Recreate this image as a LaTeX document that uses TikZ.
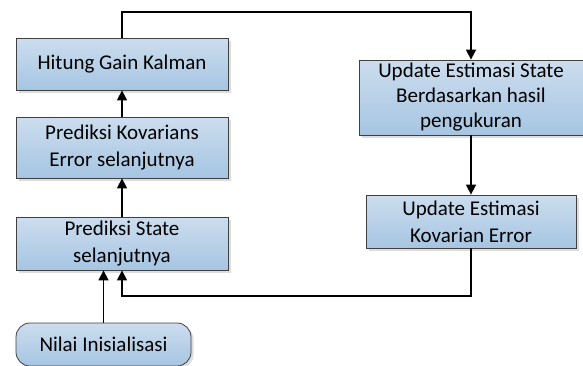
\documentclass[tikz,border=0pt]{standalone}
\usepackage{fontspec}
\setmainfont{Carlito}
\usetikzlibrary{arrows.meta,shadows}

\begin{document}
\begin{tikzpicture}[x=1pt,y=-1pt,
	kotak/.style={draw=black!75, line width=0.8pt, top color={rgb,255:red,204;green,221;blue,238}, bottom color={rgb,255:red,166;green,197;blue,226},
		drop shadow={shadow xshift=2.5pt, shadow yshift=-2.5pt, fill=black!22, opacity=0.6},
		align=center, inner sep=0pt, font=\fontsize{21}{27}\selectfont},
	panah/.style={line width=1.6pt, -{Triangle[length=10pt,width=10pt]}},
	garis/.style={line width=1.6pt}]
	
	\useasboundingbox (0,0) rectangle (583,365);
	
	\node[kotak, minimum width=212pt, minimum height=52pt] (gain) at (122,64) {Hitung Gain Kalman};
	\node[kotak, minimum width=212pt, minimum height=61pt] (prekov) at (122,147.5) {Prediksi Kovarians\\Error selanjutnya};
	\node[kotak, minimum width=212pt, minimum height=53pt] (prestate) at (122,243.5) {Prediksi State\\selanjutnya};
	\node[kotak, rounded corners=14pt, minimum width=175pt, minimum height=43pt] (nilai) at (103.5,344.5) {Nilai Inisialisasi};
	
	\node[kotak, minimum width=224pt, minimum height=75pt, font=\fontsize{21}{25}\selectfont] (update) at (471,97.5) {Update Estimasi State\\Berdasarkan hasil\\pengukuran};
	\node[kotak, minimum width=210pt, minimum height=53pt] (upkov) at (471,221.5) {Update Estimasi\\Kovarian Error};
	
	\coordinate (atas) at (122,12);
	\coordinate (bawah) at (471,296);
	
	\draw[panah] (nilai.north) -- (nilai.north |- prestate.south);
	\draw[panah] (prestate) -- (prekov);
	\draw[panah] (prekov) -- (gain);
	\draw[panah] (gain.north) -- (atas) -| (update.north);
	\draw[panah] (update) -- (upkov);
	\draw[panah] (upkov.south) -- (bawah) -| (prestate.south);
	
\end{tikzpicture}
\end{document}
